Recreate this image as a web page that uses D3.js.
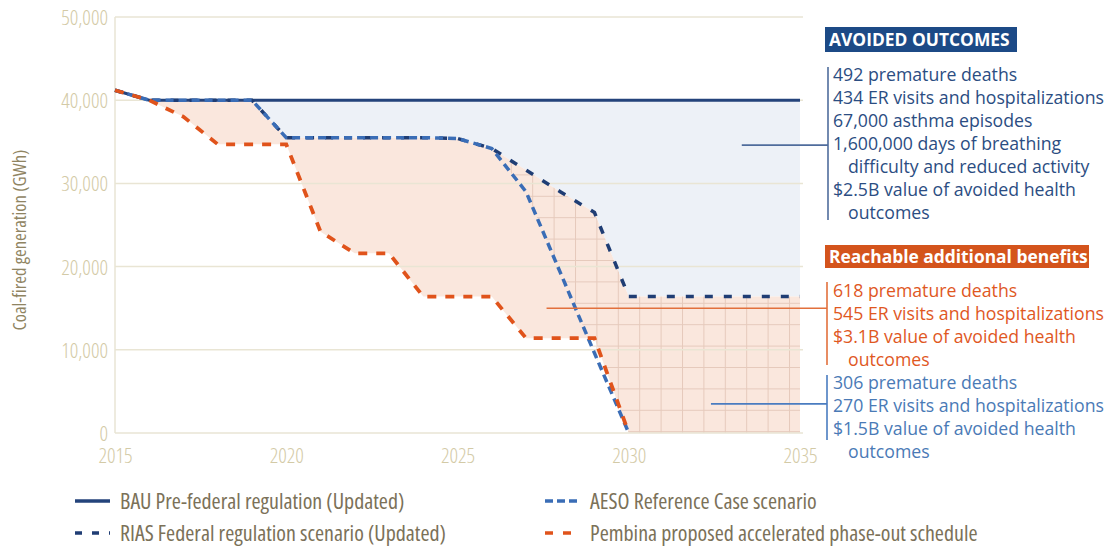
<!DOCTYPE html>
<html>
<head>
<meta charset="utf-8">
<script src="https://cdn.jsdelivr.net/npm/d3@7"></script>
<style>
  body { margin: 0; background: #fff; }
  .narrow { font-family: "Open Sans", "Noto Sans", sans-serif; font-stretch: 75%; font-weight: 300; }
  .semi { font-family: "Open Sans", "Noto Sans", sans-serif; font-stretch: 87.5%; font-weight: 400; }
</style>
</head>
<body>
<svg id="chart" width="1114" height="552"></svg>
<script>
// Years on the x axis and the four scenarios (GWh), one value per year.
const years = [2015, 2016, 2017, 2018, 2019, 2020, 2021, 2022, 2023, 2024, 2025,
  2026, 2027, 2028, 2029, 2030, 2031, 2032, 2033, 2034, 2035]
const bau = [41200, 40000, 40000, 40000, 40000, 40000, 40000, 40000, 40000, 40000, 40000,
  40000, 40000, 40000, 40000, 40000, 40000, 40000, 40000, 40000, 40000]
const rias = [41200, 40000, 40000, 40000, 40000, 35500, 35500, 35500, 35500, 35500, 35400,
  34200, 31600, 29000, 26500, 16400, 16400, 16400, 16400, 16400, 16400]
const aeso = [41200, 40000, 40000, 40000, 40000, 35500, 35500, 35500, 35500, 35500, 35400,
  34200, 29000, 19300, 9600, 0]
const pembina = [41200, 40000, 38000, 34700, 34700, 34700, 24200, 21600, 21600, 16400, 16400,
  16400, 11400, 11400, 11400, 0]

const yTicks = [0, 10000, 20000, 30000, 40000, 50000]
const xTicks = [2015, 2020, 2025, 2030, 2035]

const legendNames = ["BAU Pre-federal regulation (Updated)", "RIAS Federal regulation scenario (Updated)",
  "AESO Reference Case scenario", "Pembina proposed accelerated phase-out schedule"]

// Right-hand notes. A leading "  " means the line is a wrapped continuation.
const avoidedTitle = "AVOIDED OUTCOMES"
const avoidedLines = ["492 premature deaths", "434 ER visits and hospitalizations", "67,000 asthma episodes",
  "1,600,000 days of breathing", "  difficulty and reduced activity", "$2.5B value of avoided health", "  outcomes"]
const reachTitle = "Reachable additional benefits"
const pembinaLines = ["618 premature deaths", "545 ER visits and hospitalizations",
  "$3.1B value of avoided health", "  outcomes"]
const aesoLines = ["306 premature deaths", "270 ER visits and hospitalizations",
  "$1.5B value of avoided health", "  outcomes"]

const navy = "#1f3d74", midBlue = "#3a6db6", orange = "#e0531b"
const gridCol = "#e9e5d4", labelCol = "#d3caa6"

const svg = d3.select("#chart")
const x = d3.scaleLinear().domain([2015, 2035]).range([115, 800])
const y = d3.scaleLinear().domain([0, 50000]).range([433, 17])

const val = (arr, i) => (arr[i] === undefined ? 0 : arr[i])

// Hatch pattern used for the AESO band.
const defs = svg.append("defs")
const pat = defs.append("pattern")
  .attr("id", "hatch").attr("patternUnits", "userSpaceOnUse")
  .attr("x", 18.6).attr("y", 3.2).attr("width", 21.4).attr("height", 21.4)
pat.append("path").attr("d", "M0,0.5H21.4M0.5,0V21.4")
  .attr("stroke", "rgba(175,125,100,0.28)").attr("stroke-width", 1).attr("fill", "none")

// Fills: blue between BAU and RIAS, orange between RIAS and Pembina, hatch between RIAS and AESO.
const band = (top, bottom) => d3.area()
  .x((d, i) => x(years[i]))
  .y0((d, i) => y(val(bottom, i)))
  .y1((d, i) => y(val(top, i)))

svg.append("path").datum(years).attr("d", band(bau, rias)).attr("fill", "#edf1f7")
svg.append("path").datum(years).attr("d", band(rias, pembina)).attr("fill", "#fae7dd")
svg.append("path").datum(years.slice(11)).attr("d", d3.area()
    .x((d) => x(d))
    .y0((d, i) => y(val(aeso, i + 11)))
    .y1((d, i) => y(val(rias, i + 11))))
  .attr("fill", "url(#hatch)")

// Gridlines and axes
svg.append("g").selectAll("line").data(yTicks).join("line")
  .attr("x1", 115).attr("x2", 803)
  .attr("y1", (d) => y(d)).attr("y2", (d) => y(d))
  .attr("stroke", gridCol).attr("stroke-width", 1.5)
svg.append("line").attr("x1", 115).attr("x2", 115).attr("y1", y(50000)).attr("y2", y(0))
  .attr("stroke", gridCol).attr("stroke-width", 1.5)

const yAxis = svg.append("g").attr("transform", "translate(115,0)")
  .call(d3.axisLeft(y).tickValues(yTicks).tickSize(0).tickPadding(7).tickFormat(d3.format(",")))
yAxis.select(".domain").remove()
yAxis.selectAll("text").attr("class", "narrow").attr("fill", labelCol).attr("font-size", 21).attr("dy", "0.36em")

const xAxis = svg.append("g").attr("transform", "translate(0,433)")
  .call(d3.axisBottom(x).tickValues(xTicks).tickSize(0).tickPadding(15).tickFormat(d3.format("d")))
xAxis.select(".domain").remove()
xAxis.selectAll("text").attr("class", "narrow").attr("fill", labelCol).attr("font-size", 21)

svg.append("text").attr("class", "semi")
  .attr("transform", "translate(26,240) rotate(-90)")
  .attr("text-anchor", "middle")
  .attr("font-size", 18.5).attr("fill", "#8f8462")
  .text("Coal-fired generation (GWh)")

// Lines
const line = d3.line().x((d, i) => x(years[i])).y((d) => y(d))
const series = [
  {data: bau, color: "#24437b", width: 3, dash: null},
  {data: rias, color: navy, width: 3.5, dash: "8,11"},
  {data: aeso, color: midBlue, width: 3.5, dash: "8,5"},
  {data: pembina, color: orange, width: 3.8, dash: "9,9"}
]
series.forEach((s) => {
  svg.append("path").datum(s.data).attr("d", line)
    .attr("fill", "none").attr("stroke", s.color).attr("stroke-width", s.width)
    .attr("stroke-dasharray", s.dash)
})

// Annotation connectors and brackets
const note = (x1, yv, x2, yTop, yBot, color) => {
  svg.append("line").attr("x1", x1).attr("x2", x2).attr("y1", yv).attr("y2", yv)
    .attr("stroke", color).attr("stroke-width", 1.6)
  svg.append("line").attr("x1", x2).attr("x2", x2).attr("y1", yTop).attr("y2", yBot)
    .attr("stroke", color).attr("stroke-width", 1.6)
}
note(x(2033.3), y(34600), 828, 67, 220, "#4f6c9c")
note(x(2027.6), y(15000), 827, 282, 365, "#e2703c")
note(x(2032.4), y(3500), 827, 375, 440, "#4a7cc0")

const fontNote = "Open Sans, Noto Sans, sans-serif"
const textBlock = (lines, top, color) => {
  svg.append("g").selectAll("text").data(lines).join("text")
    .attr("x", (d) => (d.startsWith("  ") ? 848 : 833))
    .attr("y", (d, i) => top + i * 23)
    .attr("dy", "0.35em")
    .attr("font-family", fontNote).attr("font-size", 17.7).attr("fill", color)
    .text((d) => d.trim())
}
textBlock(avoidedLines, 75, "#2b4d82")
textBlock(pembinaLines, 291, "#e0581f")
textBlock(aesoLines, 383, "#4a7ab6")

const titleBox = (label, x0, y0, w, h, bg) => {
  svg.append("rect").attr("x", x0).attr("y", y0).attr("width", w).attr("height", h).attr("fill", bg)
  svg.append("text").attr("x", x0 + 4).attr("y", y0 + h / 2).attr("dy", "0.35em")
    .attr("font-family", fontNote).attr("font-weight", "bold").attr("font-size", 17.4)
    .attr("fill", "#fff").text(label)
}
titleBox(avoidedTitle, 825, 27, 192, 25, "#1c4a86")
titleBox(reachTitle, 825, 245, 264, 23, "#d4541c")

// Legend
const legend = [
  {name: legendNames[0], color: "#24437b", dash: null, lx: 75, row: 501},
  {name: legendNames[1], color: navy, dash: "7,10", lx: 75, row: 533},
  {name: legendNames[2], color: midBlue, dash: "8,4", lx: 545, row: 501},
  {name: legendNames[3], color: orange, dash: "8,10", lx: 545, row: 533}
]
const lg = svg.append("g").selectAll("g").data(legend).join("g")
  .attr("transform", (d) => "translate(" + d.lx + "," + d.row + ")")
lg.append("line").attr("x1", 0).attr("x2", 35).attr("y1", 0).attr("y2", 0)
  .attr("stroke", (d) => d.color).attr("stroke-width", 3.5)
  .attr("stroke-dasharray", (d) => d.dash)
lg.append("text").attr("class", "semi").attr("x", 45).attr("dy", "0.35em")
  .attr("font-size", 22).attr("fill", "#7b7158")
  .text((d) => d.name)
</script>
</body>
</html>
